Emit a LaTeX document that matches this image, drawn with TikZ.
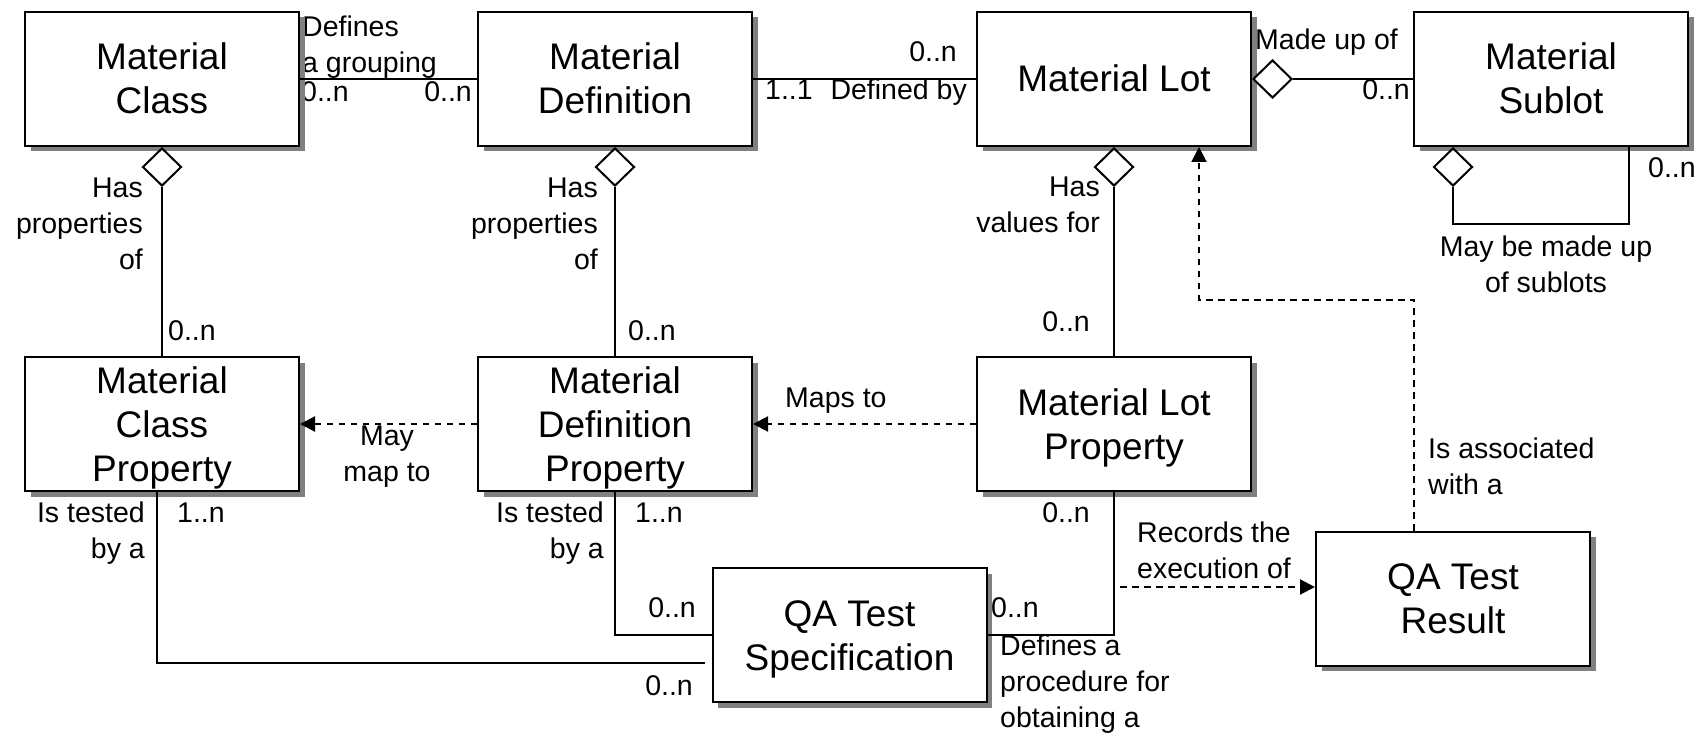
\documentclass[tikz,border=0pt]{standalone}
\usepackage{fontspec}
\setmainfont{Liberation Sans}
\usetikzlibrary{arrows.meta,shapes.geometric}
\newcommand\boxfont{\fontsize{37}{44}\selectfont}
\newcommand\lblfont{\fontsize{28.5}{36}\selectfont}
% struts: box lines (height 34, depth 8), first label line (height 22)
\newcommand\bxs{\rule[-8pt]{0pt}{42pt}}
\newcommand\lst{\rule{0pt}{22pt}}
\begin{document}
\begin{tikzpicture}[x=1pt,y=-1pt,
  classbox/.style={draw, fill=white, line width=2pt, minimum width=274pt,
    minimum height=134pt, inner sep=0pt, align=center, font=\boxfont,
    preaction={fill=black!50, transform canvas={xshift=5.5pt,yshift=-5.5pt}}},
  agg/.style={diamond, draw, fill=white, line width=2pt, minimum width=39pt,
    minimum height=38pt, inner sep=0pt},
  lbl/.style={font=\lblfont, inner sep=0pt},
  assoc/.style={line width=2pt},
  dep/.style={line width=2pt, dash pattern=on 6.5pt off 5.5pt,
    -{Triangle[length=15pt,width=15pt]}}]
\useasboundingbox (0,0) rectangle (1705,735);

% association and role labels
\node[lbl, anchor=base west] (l1) at (301,102) {0..n};
\node[lbl, anchor=base east] (l2) at (472,102) {0..n};
\node[lbl, anchor=north west, align=left] (l3) at (302,14) {\lst Defines\\a grouping};
\node[lbl, anchor=base east] (l4) at (957,62) {0..n};
\node[lbl, anchor=base west] (l5) at (765,100) {1..1};
\node[lbl, anchor=base east] (l6) at (967,100) {Defined by};
\node[lbl, anchor=base west] (l7) at (1255,50) {Made up of};
\node[lbl, anchor=base east] (l8) at (1410,100) {0..n};
\node[lbl, anchor=base west] (l9) at (1648,178) {0..n};
\node[lbl, anchor=north, align=center] (l10) at (1546,234) {\lst May be made up\\of sublots};
\node[lbl, anchor=north east, align=right] (l11) at (143,175) {\lst Has\\properties\\of};
\node[lbl, anchor=north east, align=right] (l12) at (598,175) {\lst Has\\properties\\of};
\node[lbl, anchor=north east, align=right] (l13) at (1100,174) {\lst Has\\values for};
\node[lbl, anchor=base west] (l14) at (168,340) {0..n};
\node[lbl, anchor=base west] (l15) at (628,340) {0..n};
\node[lbl, anchor=base east] (l16) at (1090,331) {0..n};
\node[lbl, anchor=north, align=center] (l17) at (387,423) {\lst May\\map to};
\node[lbl, anchor=base west] (l18) at (785,407) {Maps to};
\node[lbl, anchor=north east, align=right] (l19) at (145,500) {\lst Is tested\\by a};
\node[lbl, anchor=base west] (l20) at (177,522) {1..n};
\node[lbl, anchor=north east, align=right] (l21) at (604,500) {\lst Is tested\\by a};
\node[lbl, anchor=base west] (l22) at (635,522) {1..n};
\node[lbl, anchor=base east] (l23) at (1090,522) {0..n};
\node[lbl, anchor=north west, align=left] (l24) at (1137,520) {\lst Records the\\execution of};
\node[lbl, anchor=north west, align=left] (l25) at (1428,436) {\lst Is associated\\with a};
\node[lbl, anchor=base east] (l26) at (696,617) {0..n};
\node[lbl, anchor=base east] (l27) at (693,695) {0..n};
\node[lbl, anchor=base west] (l28) at (991,617) {0..n};
\node[lbl, anchor=north west, align=left] (l29) at (1000,633) {\lst Defines a\\procedure for\\obtaining a};

% classes
\node[classbox] (mc)  at (162,79)    {\bxs Material\\\bxs Class};
\node[classbox] (md)  at (615,79)    {\bxs Material\\\bxs Definition};
\node[classbox] (ml)  at (1114,79)   {\bxs Material Lot};
\node[classbox] (ms)  at (1551,79)   {\bxs Material\\\bxs Sublot};
\node[classbox] (mcp) at (162,424)   {\bxs Material\\\bxs Class\\\bxs Property};
\node[classbox] (mdp) at (615,424)   {\bxs Material\\\bxs Definition\\\bxs Property};
\node[classbox] (mlp) at (1114,424)  {\bxs Material Lot\\\bxs Property};
\node[classbox] (qts) at (849.5,635) {\bxs QA Test\\\bxs Specification};
\node[classbox] (qtr) at (1453,598.5){\bxs QA Test\\\bxs Result};

% aggregation diamonds
\node[agg, anchor=north] (dmc) at (mc.south) {};
\node[agg, anchor=north] (dmd) at (md.south) {};
\node[agg, anchor=north] (dml) at (ml.south) {};
\node[agg, anchor=north] (dms) at ([xshift=-98pt]ms.south) {};
\node[agg, anchor=west]  (dlot) at (ml.east) {};

% associations
\draw[assoc] (mc.east) -- (md.west);
\draw[assoc] (md.east) -- (ml.west);
\draw[assoc] (dlot.east) -- (ms.west);
\draw[assoc] (dmc.south) -- (mcp.north);
\draw[assoc] (dmd.south) -- (mdp.north);
\draw[assoc] (dml.south) -- (mlp.north);
\coordinate (loop) at (1629,224);
\draw[assoc] (dms.south) |- (loop) -- (loop |- ms.south);
\coordinate (mcpq) at (705,663);
\draw[assoc] ([xshift=-5pt]mcp.south) |- (mcpq);
\draw[assoc] (mdp.south) |- (qts.west);
\draw[assoc] (mlp.south) |- (qts.east);

% dependencies
\draw[dep] (mdp.west) -- (mcp.east);
\draw[dep] (mlp.west) -- (mdp.east);
\coordinate (rec) at (1120,587);
\draw[dep] (rec) -- (rec -| qtr.west);
\coordinate (abend) at (1199,300);
\draw[dep] ([xshift=-39pt]qtr.north) |- (abend) -- (abend |- ml.south);
\end{tikzpicture}
\end{document}
